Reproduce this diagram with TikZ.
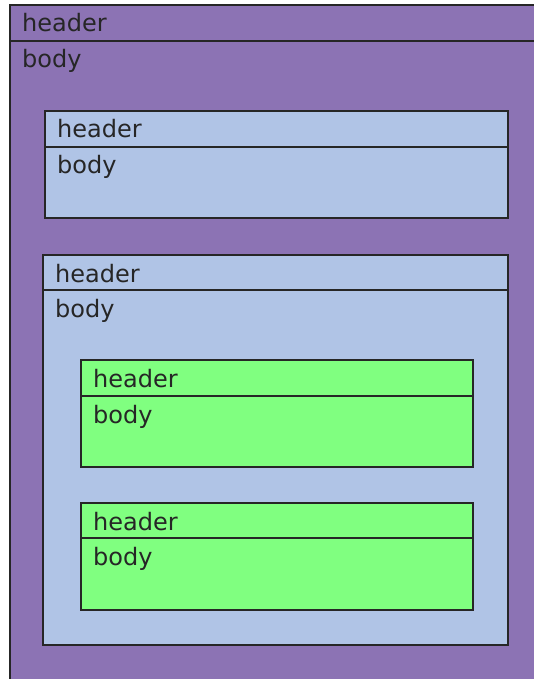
\documentclass[tikz,border=0pt]{standalone}
\usepackage{fontspec}
\setmainfont{DejaVu Sans}
\definecolor{outerpurple}{RGB}{140,115,180}
\definecolor{panelblue}{RGB}{176,196,230}
\definecolor{panelgreen}{RGB}{128,255,128}
\begin{document}
\begin{tikzpicture}[x=1pt,y=-1pt]
\tikzstyle{frame}=[draw=black!85,line width=2pt,inner sep=0pt,outer sep=0pt,anchor=north west];
\tikzstyle{lbl}=[anchor=base west,inner sep=0pt,font=\fontsize{24}{29}\selectfont,text=black!85];

\path [use as bounding box,clip] (0,0) rectangle (534,679);

\node [frame,fill=outerpurple,minimum width=560,minimum height=36] (outerhead) at (10,5) {};
\node [frame,fill=outerpurple,minimum width=560,minimum height=680] (outerbody) at (outerhead.south west) {};
\node [lbl] (outerheadtxt) at (22,32) {header};
\node [lbl] (outerbodytxt) at (22,68) {body};

\node [frame,fill=panelblue,minimum width=463,minimum height=36] (firsthead) at (45,111) {};
\node [frame,fill=panelblue,minimum width=463,minimum height=71] (firstbody) at (firsthead.south west) {};
\node [lbl] (firstheadtxt) at (57,138) {header};
\node [lbl] (firstbodytxt) at (57,174) {body};

\node [frame,fill=panelblue,minimum width=465,minimum height=35] (secondhead) at (43,255) {};
\node [frame,fill=panelblue,minimum width=465,minimum height=355] (secondbody) at (secondhead.south west) {};
\node [lbl] (secondheadtxt) at (55,282) {header};
\node [lbl] (secondbodytxt) at (55,317) {body};

\node [frame,fill=panelgreen,minimum width=392,minimum height=36] (innerhead) at (81,360) {};
\node [frame,fill=panelgreen,minimum width=392,minimum height=71] (innerbody) at (innerhead.south west) {};
\node [lbl] (innerheadtxt) at (93,387) {header};
\node [lbl] (innerbodytxt) at (93,423) {body};

\node [frame,fill=panelgreen,minimum width=392,minimum height=35] (lasthead) at (81,503) {};
\node [frame,fill=panelgreen,minimum width=392,minimum height=72] (lastbody) at (lasthead.south west) {};
\node [lbl] (lastheadtxt) at (93,530) {header};
\node [lbl] (lastbodytxt) at (93,565) {body};
\end{tikzpicture}
\end{document}
